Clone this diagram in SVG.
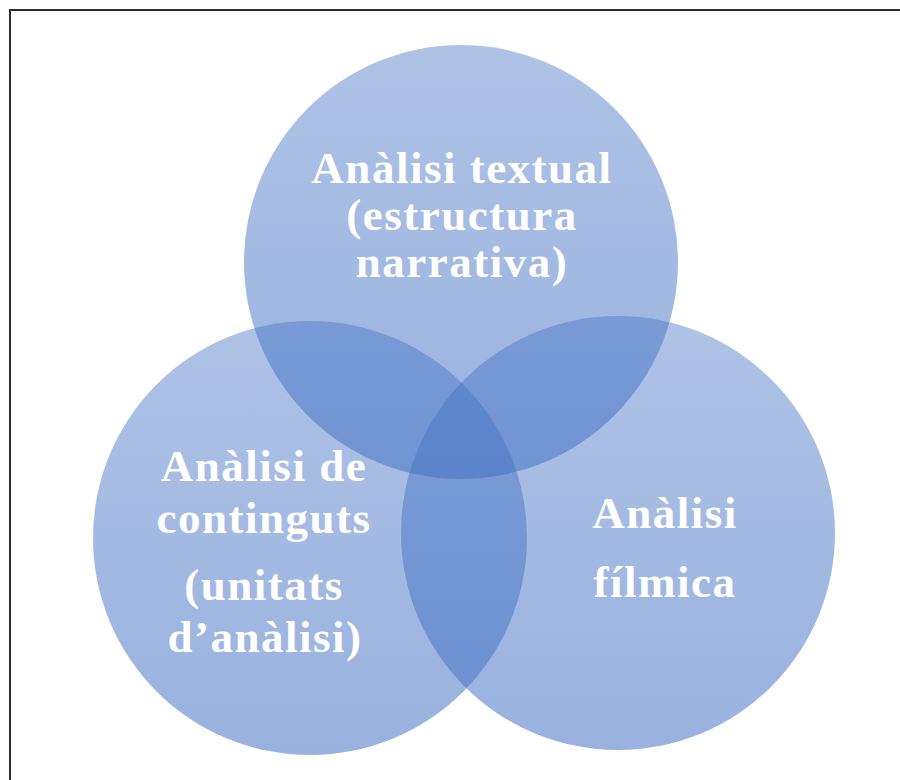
<svg xmlns="http://www.w3.org/2000/svg" width="900" height="780" viewBox="0 0 900 780">
<defs>
<linearGradient id="g" x1="0" y1="0" x2="0" y2="1">
<stop offset="0" stop-color="#4472C4" stop-opacity="0.43"/>
<stop offset="1" stop-color="#4472C4" stop-opacity="0.55"/>
</linearGradient>
<style>
.c{fill:url(#g);}
.t{font-family:"Liberation Serif","Times New Roman",serif;font-weight:bold;font-size:45px;letter-spacing:1.5px;fill:#ffffff;text-anchor:middle;}
</style>
</defs>
<rect width="900" height="780" fill="#ffffff"/>
<rect x="10" y="10" width="900" height="800" fill="none" stroke="#2b2b2b" stroke-width="2"/>
<g id="top">
<circle class="c" cx="461" cy="262" r="217"/>
<text class="t" x="462" y="183">Anàlisi textual</text>
<text class="t" x="462" y="230">(estructura</text>
<text class="t" x="462" y="277">narrativa)</text>
</g>
<g id="left">
<circle class="c" cx="310" cy="538" r="217"/>
<text class="t" x="264" y="481">Anàlisi de</text>
<text class="t" x="264" y="533">continguts</text>
<text class="t" x="264" y="600">(unitats</text>
<text class="t" x="265" y="652">d’anàlisi)</text>
</g>
<g id="right">
<circle class="c" cx="618" cy="533" r="217"/>
<text class="t" x="665" y="528">Anàlisi</text>
<text class="t" x="665" y="597">fílmica</text>
</g>
<g id="connectors"/>
</svg>
